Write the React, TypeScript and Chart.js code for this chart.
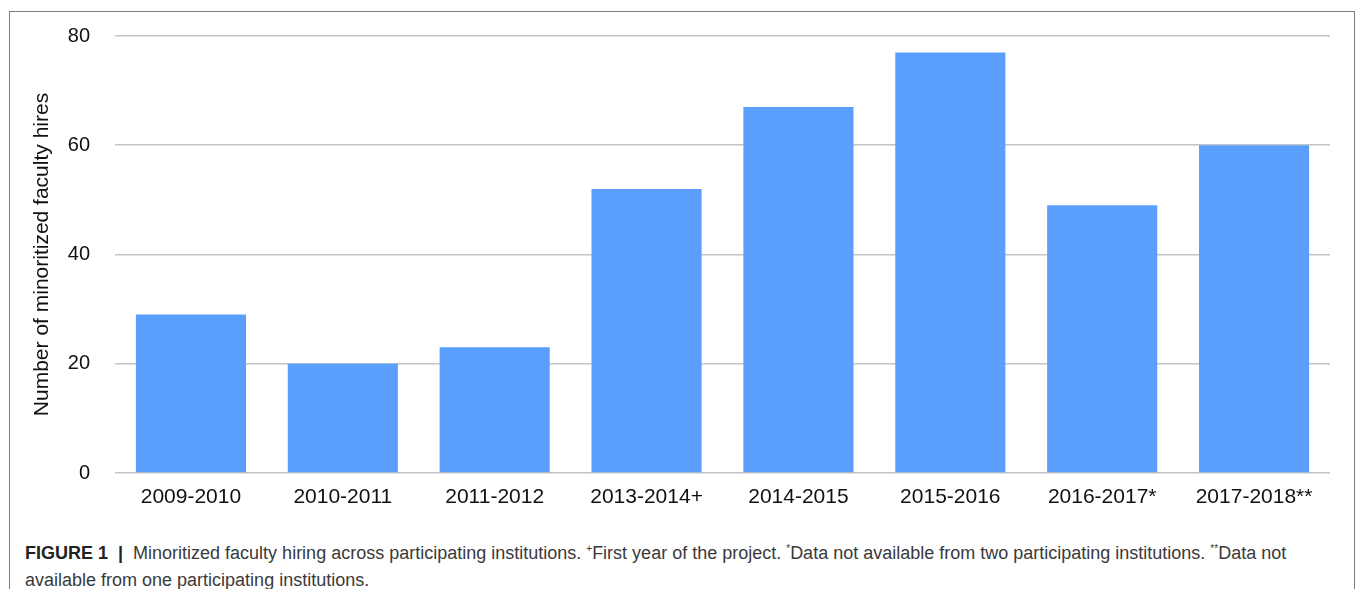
import React, { useEffect, useRef } from "react";
import { Chart, registerables } from "chart.js";

Chart.register(...registerables);

const categories = [
  "2009-2010",
  "2010-2011",
  "2011-2012",
  "2013-2014+",
  "2014-2015",
  "2015-2016",
  "2016-2017*",
  "2017-2018**",
];
const hires = [29, 20, 23, 52, 67, 77, 49, 60];
const yMax = 80;
const yStep = 20;
const yTitle = "Number of minoritized faculty hires";

const FONT = "'Liberation Sans', Arial, Helvetica, sans-serif";

export default function App() {
  const canvasRef = useRef<HTMLCanvasElement | null>(null);

  useEffect(() => {
    const canvas = canvasRef.current;
    if (!canvas) return;
    const chart = new Chart(canvas, {
      type: "bar",
      data: {
        labels: categories,
        datasets: [
          {
            data: hires,
            backgroundColor: "#5A9EFE",
            borderWidth: 0,
            categoryPercentage: 1,
            barPercentage: 0.725,
          },
        ],
      },
      options: {
        animation: false,
        responsive: true,
        maintainAspectRatio: false,
        layout: { padding: { top: 24, right: 20, left: 0, bottom: 0 } },
        plugins: {
          legend: { display: false },
          tooltip: { enabled: false },
        },
        scales: {
          x: {
            grid: { display: false, drawTicks: false },
            border: { display: false },
            ticks: {
              color: "#111",
              padding: 12,
              maxRotation: 0,
              autoSkip: false,
              font: { family: FONT, size: 21 },
            },
            afterFit: (scale: any) => {
              scale.height = 44;
              scale.paddingTop = 0;
              scale.paddingBottom = 0;
              scale.paddingLeft = 0;
              scale.paddingRight = 0;
            },
          },
          y: {
            min: 0,
            max: yMax,
            ticks: {
              stepSize: yStep,
              color: "#111",
              padding: 25,
              font: { family: FONT, size: 20 },
            },
            grid: {
              color: "#c4c4c4",
              lineWidth: 1.6,
              drawTicks: false,
            },
            border: { display: false },
            title: {
              display: true,
              text: yTitle,
              color: "#111",
              padding: { top: 20, bottom: 0 },
              font: { family: FONT, size: 21 },
            },
            afterFit: (scale: any) => {
              scale.width = 105;
              scale.paddingTop = 0;
              scale.paddingBottom = 0;
              scale.paddingLeft = 0;
              scale.paddingRight = 0;
            },
          },
        },
      },
    });
    return () => chart.destroy();
  }, []);

  return (
    <div>
      <div
        style={{
          position: "absolute",
          left: 9,
          top: 11,
          width: 1346,
          height: 600,
          boxSizing: "border-box",
          border: "1px solid #7d7d7d",
          borderBottom: "none",
          background: "#fff",
        }}
      />
      <div
        style={{
          position: "absolute",
          left: 10,
          top: 12,
          width: 1340,
          height: 505,
        }}
      >
        <canvas ref={canvasRef} />
      </div>
      <div
        style={{
          position: "absolute",
          left: 25,
          top: 535,
          width: 1300,
          fontFamily: FONT,
          fontSize: 18,
          lineHeight: "27px",
          color: "#3a3a3a",
        }}
      >
        <b style={{ color: "#222" }}>FIGURE 1&nbsp;&nbsp;|&nbsp;&nbsp;</b>
        Minoritized faculty hiring across participating institutions.{" "}
        <sup style={{ fontSize: 10 }}>+</sup>First year of the project.{" "}
        <sup style={{ fontSize: 10 }}>*</sup>Data not available from two
        participating institutions. <sup style={{ fontSize: 10 }}>**</sup>Data
        not available from one participating institutions.
      </div>
    </div>
  );
}
